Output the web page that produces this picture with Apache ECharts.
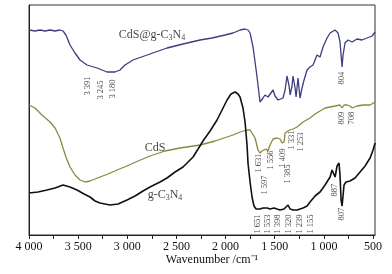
<!DOCTYPE html>
<html>
<head>
<meta charset="utf-8">
<script src="https://cdn.jsdelivr.net/npm/echarts@6/dist/echarts.min.js"></script>
<style>
  html, body { margin: 0; padding: 0; background: #fff; }
  #chart { width: 392px; height: 274px; }
</style>
</head>
<body>
<div id="chart"></div>
<script>
// wavenumber (cm-1), transmittance (arb. units, offset curves)
const cdsGcn = [
  [4000,205],[3939,204],[3888,205],[3837,204],[3786,205],[3735,204],[3685,205],[3654,204],
  [3624,200],[3583,190],[3532,182],[3481,175],[3410,170],[3308,167],[3206,163],[3125,163],
  [3074,165],[3023,170],[2942,175],[2769,181],[2596,187],[2433,191],[2260,195],[2138,197],
  [2006,200],[1924,202],[1853,205],[1802,206],[1772,205],[1751,202],[1721,188],[1700,173],
  [1680,158],[1650,133],[1619,137],[1599,140],[1568,138],[1548,140],[1517,145],[1497,139],
  [1466,135],[1446,133],[1416,137],[1395,145],[1375,159],[1354,149],[1344,140],[1324,149],
  [1314,159],[1293,147],[1283,138],[1263,157],[1243,137],[1222,147],[1202,155],[1171,165],
  [1141,168],[1110,170],[1070,180],[1039,178],[1009,188],[968,197],[937,202],[917,204],
  [886,205],[866,204],[856,202],[836,193],[815,168],[805,180],[785,192],[754,195],
  [713,193],[663,196],[612,195],[561,197],[510,199],[479,203]
];

const cds = [
  [4000,130],[3939,127],[3868,120],[3786,113],[3735,107],[3685,97],[3654,87],[3624,78],
  [3583,68],[3532,60],[3481,55],[3430,53],[3379,54],[3328,56],[3278,58],[3196,61],
  [3105,65],[3003,69],[2891,74],[2769,79],[2616,84],[2464,87],[2260,90],[2107,94],
  [1924,100],[1853,103],[1782,105],[1751,105],[1731,103],[1700,97],[1670,85],[1650,82],
  [1629,84],[1609,83],[1589,86],[1568,84],[1548,90],[1517,96],[1477,97],[1446,96],
  [1426,92],[1405,93],[1395,102],[1365,104],[1344,105],[1314,106],[1273,108],[1212,113],
  [1141,117],[1090,121],[1039,124],[988,127],[937,128],[886,129],[836,130],[815,127],
  [795,130],[764,130],[734,129],[713,127],[693,129],[663,129],[602,130],[530,130],[479,133]
];

const gcn = [
  [4000,42],[3908,43],[3817,45],[3735,47],[3654,50],[3583,48],[3512,45],[3440,41],
  [3379,38],[3328,34],[3278,32],[3176,30],[3094,31],[3003,35],[2921,39],[2840,44],
  [2769,48],[2667,53],[2596,57],[2514,63],[2433,68],[2382,73],[2331,78],[2280,86],
  [2230,94],[2158,104],[2087,115],[2036,125],[1985,135],[1945,141],[1904,143],[1873,141],
  [1853,138],[1823,127],[1802,113],[1782,90],[1772,72],[1751,53],[1731,38],[1711,29],
  [1690,26],[1650,26],[1619,27],[1578,27],[1548,26],[1507,27],[1477,26],[1446,25],
  [1405,26],[1385,28],[1365,30],[1344,26],[1314,25],[1273,25],[1212,27],[1171,29],
  [1141,33],[1090,39],[1039,43],[988,50],[937,58],[917,65],[907,67],[886,58],
  [866,69],[846,72],[836,60],[825,35],[815,29],[795,50],[775,53],[734,54],
  [683,57],[632,63],[581,69],[530,77],[500,85],[479,92]
];

// peak annotations: [label, wavenumber at label, height at label centre]
const peakLabels = [
  ['3 391', 3400, 149], ['3 245', 3267, 145], ['3 180', 3145, 146],
  ['804', 815, 157],
  ['809', 815, 117], ['708', 713, 117],
  ['1 631', 1660, 72], ['1 597', 1599, 50], ['1 556', 1538, 75],
  ['1 409', 1416, 77], ['1 385', 1365, 61], ['1 331', 1324, 95], ['1 253', 1232, 93],
  ['1 651', 1670, 11], ['1 553', 1568, 11], ['1 398', 1466, 11],
  ['1 320', 1354, 11], ['1 239', 1243, 11], ['1 155', 1131, 11],
  ['887', 886, 45], ['807', 815, 21]
];

// curve names: [rich text, wavenumber, height]
const curveNames = [
  ['CdS@g-C{sub|3}N{sub|4}', 2748, 200],
  ['CdS', 2718, 87],
  ['g-C{sub|3}N{sub|4}', 2616, 40]
];

const xLabels = [4000, 3500, 3000, 2500, 2000, 1500, 1000, 500];
const xTicks = [4000, 3750, 3500, 3250, 3000, 2750, 2500, 2250, 2000, 1750, 1500, 1250, 1000, 750, 500];

const font = '"Liberation Serif", "Times New Roman", serif';

function fmtNum(v) {
  const s = String(v);
  return s.length > 3 ? s.slice(0, s.length - 3) + ' ' + s.slice(-3) : s;
}

const chart = echarts.init(document.getElementById('chart'), null, { renderer: 'canvas' });

chart.setOption({
  animation: false,
  backgroundColor: '#fff',
  textStyle: { fontFamily: font },
  grid: {
    left: 29, right: 17, top: 5, bottom: 39,
    show: true, borderColor: '#333', borderWidth: 1
  },
  xAxis: {
    type: 'value',
    inverse: true,
    min: 480, max: 4000,
    splitLine: { show: false },
    axisLine: { lineStyle: { color: '#222', width: 1 } },
    axisTick: { show: true, inside: false, length: 4, customValues: xTicks, lineStyle: { color: '#222' } },
    axisLabel: {
      customValues: xLabels, margin: 6, fontSize: 12, color: '#111', fontFamily: font,
      formatter: (v) => fmtNum(v)
    }
  },
  yAxis: {
    type: 'value',
    min: 0, max: 230,
    splitLine: { show: false },
    axisLine: { show: true, lineStyle: { color: '#222' } },
    axisTick: { show: false },
    axisLabel: { show: false }
  },
  graphic: [{
    type: 'text',
    x: 212, y: 260,
    style: {
      text: 'Wavenumber /cm⁻¹',
      font: '12px ' + font,
      fill: '#111',
      align: 'center',
      verticalAlign: 'middle'
    }
  }],
  series: [
    {
      name: 'CdS@g-C3N4', type: 'line', data: cdsGcn, showSymbol: false,
      lineStyle: { color: '#3d3d80', width: 1.3 }
    },
    {
      name: 'CdS', type: 'line', data: cds, showSymbol: false,
      lineStyle: { color: '#8a8840', width: 1.3 }
    },
    {
      name: 'g-C3N4', type: 'line', data: gcn, showSymbol: false,
      lineStyle: { color: '#111', width: 1.6 }
    },
    {
      type: 'scatter', symbolSize: 0, silent: true,
      data: peakLabels.map((p) => ({ name: p[0], value: [p[1], p[2]] })),
      label: {
        show: true, position: 'inside', rotate: 90,
        formatter: (p) => p.name,
        fontSize: 8.5, color: '#111', fontFamily: font
      }
    },
    {
      type: 'scatter', symbolSize: 0, silent: true,
      data: curveNames.map((p) => ({ name: p[0], value: [p[1], p[2]] })),
      label: {
        show: true, position: 'inside',
        formatter: (p) => p.name,
        fontSize: 12, color: '#111', fontFamily: font,
        rich: { sub: { fontSize: 8, verticalAlign: 'bottom', padding: [6, 0, 0, 0], fontFamily: font } }
      }
    }
  ]
});
</script>
</body>
</html>
